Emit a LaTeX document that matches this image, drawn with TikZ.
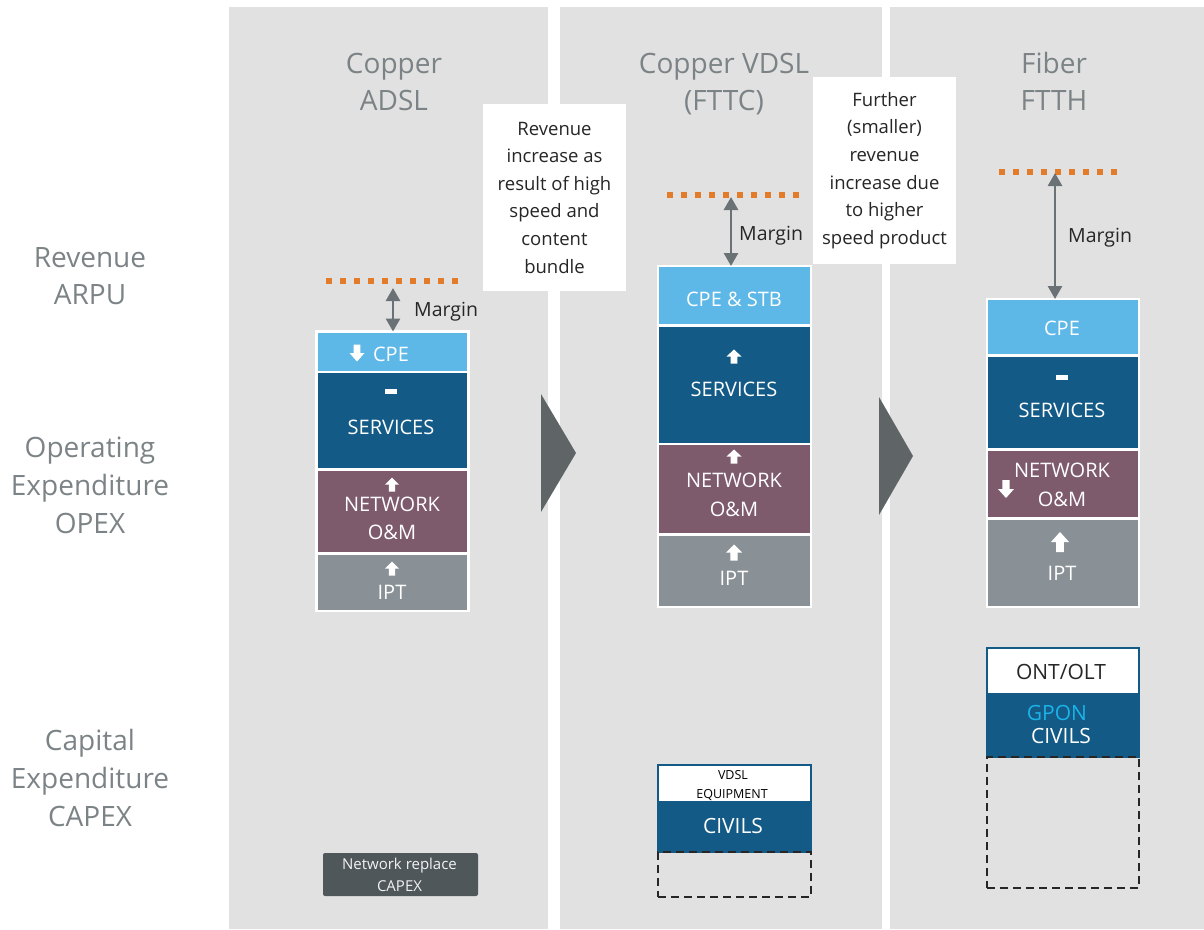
\documentclass[tikz,border=0pt]{standalone}
\usepackage{fontspec}
\setmainfont{Open Sans}
\usetikzlibrary{arrows.meta}
\definecolor{panelgray}{HTML}{E1E1E1}
\definecolor{lblue}{HTML}{5DB8E8}
\definecolor{dblue}{HTML}{135A87}
\definecolor{mauve}{HTML}{7E5A6D}
\definecolor{iptgray}{HTML}{8A9196}
\definecolor{arrgray}{HTML}{6B7275}
\definecolor{dotorange}{HTML}{E27C2B}
\definecolor{titlegray}{HTML}{7C8386}
\definecolor{trigray}{HTML}{5F6567}
\definecolor{capexgray}{HTML}{50575A}
\definecolor{textdark}{HTML}{262626}
\definecolor{gponcyan}{HTML}{1BB3E8}
\newcommand\IconUp[4]{\fill[white,shift={(#1,#2)},xscale=#3,yscale=#4] (0,-0.5) -- (0.5,0) -- (0.22,0) -- (0.22,0.5) -- (-0.22,0.5) -- (-0.22,0) -- (-0.5,0) -- cycle;}
\newcommand\IconMinus[2]{\fill[white] (#1-6,#2-2.5) rectangle (#1+6,#2+2.5);}
\tikzset{
  blk/.style={draw=white, line width=2.5pt, inner sep=0pt, outer sep=0pt},
  lbl/.style={anchor=base, text=white, font=\fontsize{20}{24}\selectfont, inner sep=0pt},
  ttl/.style={anchor=base, text=titlegray, font=\fontsize{28}{34}\selectfont, inner sep=0pt},
  marg/.style={draw=arrgray, line width=2.8pt, {Triangle[length=13pt,width=14pt]}-{Triangle[length=13pt,width=14pt]}},
  mlabel/.style={anchor=base west, text=textdark, font=\fontsize{19.5}{22}\selectfont, inner sep=0pt},
  dots/.style={draw=dotorange, line width=6pt, dash pattern=on 6pt off 8pt},
  callout/.style={fill=white, align=center, text=textdark, font=\fontsize{18.5}{27.6}\selectfont, inner sep=0pt},
  dashbox/.style={draw=black!85, line width=1.8pt, dash pattern=on 8pt off 5pt, inner sep=0pt},
  civ/.style={fill=dblue, draw=dblue, line width=1.5pt, inner sep=0pt},
  eqbox/.style={fill=white, draw=dblue, line width=1.5pt, inner sep=0pt},
  tri/.style={fill=trigray}
}
\begin{document}
\begin{tikzpicture}[x=1pt,y=-1pt]
\useasboundingbox (0,0) rectangle (1204,929);
% panels
\fill[panelgray] (229,7) rectangle (548,929);
\fill[panelgray] (560,7) rectangle (882,929);
\fill[panelgray] (890,7) rectangle (1204,929);
% titles
\node[ttl] (t1a) at (394,73) {Copper};
\node[ttl] (t1b) at (394,110) {ADSL};
\node[ttl] (t2a) at (724,73) {Copper VDSL};
\node[ttl] (t2b) at (724,110) {(FTTC)};
\node[ttl] (t3a) at (1054,73) {Fiber};
\node[ttl] (t3b) at (1054,110) {FTTH};
% row labels
\node[ttl] (r1a) at (90,267) {Revenue};
\node[ttl] (r1b) at (90,304) {ARPU};
\node[ttl] (r2a) at (90,457) {Operating};
\node[ttl] (r2b) at (90,495) {Expenditure};
\node[ttl] (r2c) at (90,533) {OPEX};
\node[ttl] (r3a) at (90,750) {Capital};
\node[ttl] (r3b) at (90,788) {Expenditure};
\node[ttl] (r3c) at (90,826) {CAPEX};
% transition triangles
\fill[tri] (541,394) -- (576,453) -- (541,512) -- cycle;
\fill[tri] (879,397) -- (913,456) -- (879,515) -- cycle;
% callouts
\node[callout, minimum width=143pt, minimum height=187pt] (cb1) at (554.5,197.5) {Revenue\\increase as\\result of high\\speed and\\content\\bundle};
\node[callout, minimum width=143pt, minimum height=187pt] (cb2) at (884.5,170.5) {Further\\(smaller)\\revenue\\increase due\\to higher\\speed product};
% ---------- stack 1
\node[blk, fill=lblue, minimum width=152pt, minimum height=40.5pt] (cpe1) at (392.5,351.75) {};
\node[blk, fill=dblue, minimum width=152pt, minimum height=97.5pt] (srv1) at (392.5,420.75) {};
\node[blk, fill=mauve, minimum width=152pt, minimum height=84pt] (net1) at (392.5,511.5) {};
\node[blk, fill=iptgray, minimum width=152pt, minimum height=57.5pt] (ipt1) at (392.5,582.25) {};
\node[lbl] (l1a) at (391,361) {CPE};
\node[lbl] (l1b) at (391,434) {SERVICES};
\node[lbl] (l1c) at (392,511) {NETWORK};
\node[lbl] (l1d) at (392,539) {O\&M};
\node[lbl] (l1e) at (392,599) {IPT};
\IconUp{357}{353}{15}{-17}
\IconMinus{391}{391.5}
\IconUp{392}{484.5}{14}{14}
\IconUp{392}{568.5}{14}{14}
\draw[dots] (326,281) coordinate (o1a) -- (458,281) coordinate (o1b);
\coordinate (m1) at (393,288);
\draw[marg] (m1) -- (m1 |- cpe1.north);
\node[mlabel] (mg1) at (414,316) {Margin};
% ---------- stack 2
\node[blk, fill=lblue, minimum width=153pt, minimum height=59.5pt] (cpe2) at (734.5,295.75) {};
\node[blk, fill=dblue, minimum width=153pt, minimum height=118.5pt] (srv2) at (734.5,384.75) {};
\node[blk, fill=mauve, minimum width=153pt, minimum height=90.5pt] (net2) at (734.5,489.25) {};
\node[blk, fill=iptgray, minimum width=153pt, minimum height=72.5pt] (ipt2) at (734.5,570.75) {};
\node[lbl] (l2a) at (734,306) {CPE \& STB};
\node[lbl] (l2b) at (734,396) {SERVICES};
\node[lbl] (l2c) at (734,487) {NETWORK};
\node[lbl] (l2d) at (734,516) {O\&M};
\node[lbl] (l2e) at (734,585) {IPT};
\IconUp{734}{356.5}{15}{14}
\IconUp{734}{456.5}{15}{14}
\IconUp{734}{552.5}{16}{16}
\draw[dots] (667,195) coordinate (o2a) -- (801,195) coordinate (o2b);
\coordinate (m2) at (731,197);
\draw[marg] (m2) -- (m2 |- cpe2.north);
\node[mlabel] (mg2) at (739,240) {Margin};
% ---------- stack 3
\node[blk, fill=lblue, minimum width=152pt, minimum height=56.5pt] (cpe3) at (1063,327.25) {};
\node[blk, fill=dblue, minimum width=152pt, minimum height=94pt] (srv3) at (1063,402.5) {};
\node[blk, fill=mauve, minimum width=152pt, minimum height=69pt] (net3) at (1063,484) {};
\node[blk, fill=iptgray, minimum width=152pt, minimum height=88.5pt] (ipt3) at (1063,562.75) {};
\node[lbl] (l3a) at (1062,335) {CPE};
\node[lbl] (l3b) at (1062,417) {SERVICES};
\node[lbl] (l3c) at (1062,477) {NETWORK};
\node[lbl] (l3d) at (1062,506) {O\&M};
\node[lbl] (l3e) at (1062,580) {IPT};
\IconMinus{1062}{377.5}
\IconUp{1006}{489}{16}{-18}
\IconUp{1060}{542}{18}{20}
\draw[dots] (999,172) coordinate (o3a) -- (1118,172) coordinate (o3b);
\coordinate (m3) at (1055,173);
\draw[marg] (m3) -- (m3 |- cpe3.north);
\node[mlabel] (mg3) at (1068,242) {Margin};
% ---------- capex
\node[fill=capexgray, rounded corners=2pt, minimum width=155pt, minimum height=43pt, inner sep=0pt] (nrc) at (400.5,874.5) {};
\node[anchor=base, text=white!90!gray, font=\fontsize{15}{18}\selectfont, inner sep=0pt] (nrc1) at (399.5,869) {Network replace};
\node[anchor=base, text=white!90!gray, font=\fontsize{15}{18}\selectfont, inner sep=0pt] (nrc2) at (399.5,891) {CAPEX};
% stack 2 capex
\node[eqbox, minimum width=153pt, minimum height=37pt] (eq2) at (734.5,783.5) {};
\node[civ, minimum width=153pt, minimum height=50pt] (civ2) at (734.5,827) {};
\node[dashbox, minimum width=153pt, minimum height=45pt] (dsh2) at (734.5,874.5) {};
\node[anchor=base, text=black, font=\fontsize{12.5}{14}\selectfont, inner sep=0pt] (eq2a) at (733,779) {VDSL};
\node[anchor=base, text=black, font=\fontsize{12.5}{14}\selectfont, inner sep=0pt] (eq2b) at (732,798) {EQUIPMENT};
\node[lbl, font=\fontsize{21}{24}\selectfont] (civ2t) at (733,833) {CIVILS};
% stack 3 capex
\node[eqbox, minimum width=152pt, minimum height=46pt] (ont3) at (1063,671) {};
\node[civ, minimum width=152pt, minimum height=63pt] (civ3) at (1063,725.5) {};
\node[dashbox, minimum width=152pt, minimum height=131pt] (dsh3) at (1063,822.5) {};
\node[anchor=base, text=textdark, font=\fontsize{21}{24}\selectfont, inner sep=0pt] (ont3t) at (1061,679) {ONT/OLT};
\node[lbl, text=gponcyan, font=\fontsize{21}{24}\selectfont] (gpon3) at (1057,720) {GPON};
\node[lbl, font=\fontsize{21}{24}\selectfont] (civ3t) at (1061,743) {CIVILS};
\end{tikzpicture}
\end{document}
